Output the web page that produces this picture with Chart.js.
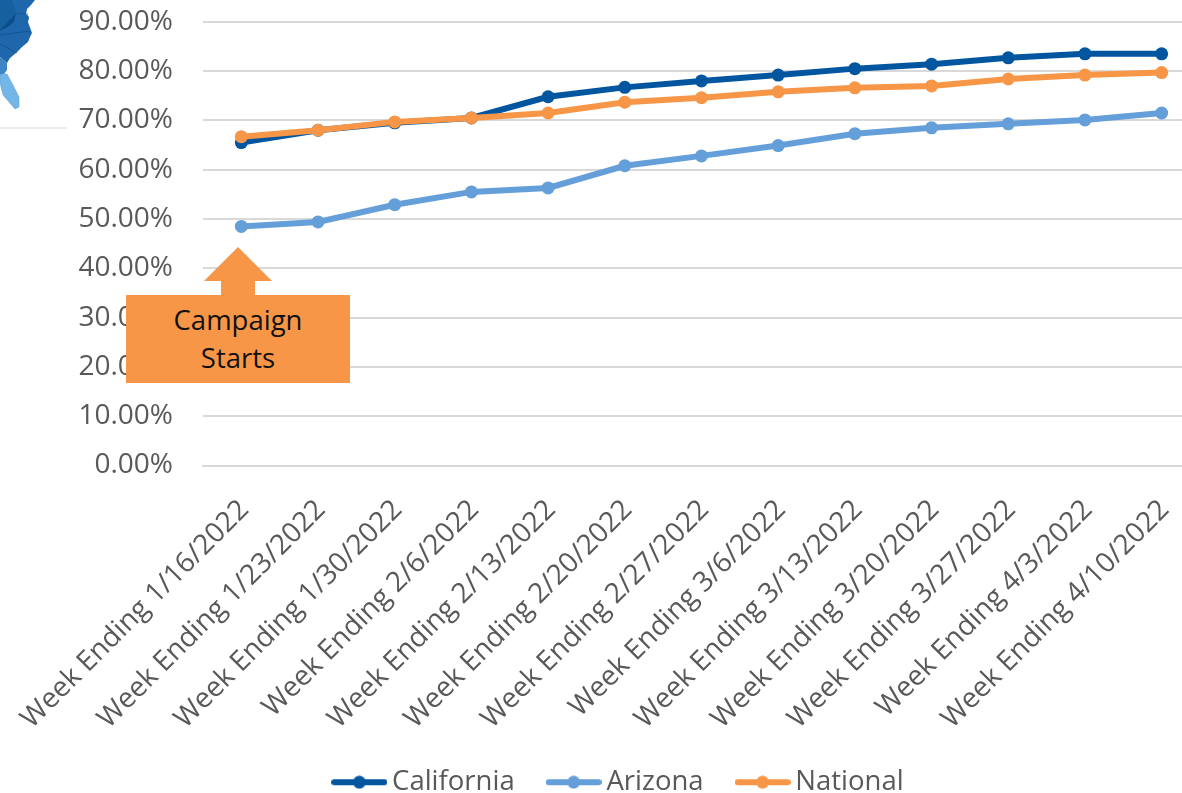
<!DOCTYPE html>
<html><head><meta charset="utf-8">
<style>
html,body{margin:0;padding:0;background:#fff;width:1182px;height:793px;overflow:hidden}
#wrap{position:relative;width:1182px;height:793px;overflow:hidden}
canvas{position:absolute;left:0;top:-25px}
#map{position:absolute;left:0;top:0}
#note{position:absolute;left:126px;top:295px;width:224px;height:88px;background:#F79646;color:#111;font:27.5px/38px "Open Sans",sans-serif;text-align:center;display:flex;align-items:center;justify-content:center}
#arrow{position:absolute;left:204px;top:247px}
</style>
<script src="https://cdn.jsdelivr.net/npm/chart.js@4"></script>
</head><body><div id="wrap">
<canvas id="c" width="1244" height="831"></canvas>
<svg id="map" width="70" height="135" viewBox="0 0 70 135">
<path d="M0 0H35L31 5 27 9 26 14 29 17 28 22 32 33 30 37 28 42 22 47 16 53 10 58 7 63 0 57Z" fill="#1F67AC"/>
<path d="M0 0H12L16 13 0 30Z" fill="#17609F"/>
<path d="M0 30L16 13 14 22 8 27 0 31Z" fill="#0C4E8D"/>
<path d="M0 57L7 63 7 70 4 74 0 75Z" fill="#3D85C4"/>
<path d="M0 75L4 74 7 74 13 85 19 97 19 107 15 109 9 102 3 95 0 83Z" fill="#74B6E8" stroke="#5A9FD2" stroke-width=".5"/>
<path d="M0 35L30 31M0 44L17 53M16 13L26 14M27 13L28 20" stroke="#0D4A85" stroke-width=".6" fill="none"/>
<rect x="0" y="127" width="67" height="2" fill="#EDEDED"/>
</svg>
<svg id="arrow" width="68" height="48"><path d="M34 0L68 34H51V48H17V34H0Z" fill="#F79646"/></svg>
<div id="note"><div>Campaign<br>Starts</div></div>
</div>
<script>
const categories=["Week Ending 1/16/2022","Week Ending 1/23/2022","Week Ending 1/30/2022","Week Ending 2/6/2022","Week Ending 2/13/2022","Week Ending 2/20/2022","Week Ending 2/27/2022","Week Ending 3/6/2022","Week Ending 3/13/2022","Week Ending 3/20/2022","Week Ending 3/27/2022","Week Ending 4/3/2022","Week Ending 4/10/2022"];
const california=[65.5,68,69.5,70.5,74.8,76.7,78,79.2,80.5,81.4,82.7,83.5,83.5];
const arizona=[48.5,49.4,52.9,55.5,56.3,60.8,62.8,64.9,67.3,68.5,69.3,70.1,71.5];
const national=[66.7,68,69.7,70.5,71.5,73.7,74.6,75.8,76.6,77,78.4,79.2,79.7];
const FONT='"Open Sans",sans-serif';
function glyph(color){const k=document.createElement('canvas');k.width=56;k.height=14;const x=k.getContext('2d');x.strokeStyle=color;x.lineWidth=6;x.lineCap='round';x.beginPath();x.moveTo(3,7);x.lineTo(53,7);x.stroke();x.fillStyle=color;x.beginPath();x.arc(28,7,6.5,0,7);x.fill();return k;}
function ds(label,data,color,order){return{label,data,order,borderColor:color,backgroundColor:color,borderWidth:6,pointRadius:6.5,pointBackgroundColor:color,pointBorderColor:color,pointBorderWidth:0,pointStyle:'circle',tension:0,clip:false};}
const sets=[ds('California',california,'#02569F',2),ds('Arizona',arizona,'#659FD9',1),ds('National',national,'#F79646',0)];
new Chart(document.getElementById('c'),{type:'line',data:{labels:categories,datasets:sets},
options:{responsive:false,animation:false,devicePixelRatio:1,
layout:{padding:{top:21,left:44,right:44,bottom:0}},
plugins:{tooltip:{enabled:false},legend:{position:'bottom',labels:{color:'#595959',font:{family:FONT,size:27.5},usePointStyle:true,pointStyleWidth:38,boxHeight:14,padding:40,
generateLabels(ch){return ch.data.datasets.map((d,i)=>({text:d.label,fillStyle:d.borderColor,strokeStyle:d.borderColor,pointStyle:glyph(d.borderColor),fontColor:'#595959',datasetIndex:i,lineWidth:0}));}}}},
scales:{
x:{offset:true,ticks:{color:'#595959',font:{family:FONT,size:28},minRotation:45,maxRotation:45,autoSkip:false,padding:20,labelOffset:3},grid:{display:false},border:{color:'#D9D9D9',width:2},afterFit(s){s.height=263;s.paddingLeft=0;s.paddingRight=0}},
y:{min:0,max:90,ticks:{stepSize:10,color:'#595959',font:{family:FONT,size:28},padding:30,callback:v=>v.toFixed(2)+'%'},grid:{color:'#D9D9D9',lineWidth:2,drawTicks:false},border:{display:false},afterFit(s){s.width=159}}
}}});
</script>
</body></html>
